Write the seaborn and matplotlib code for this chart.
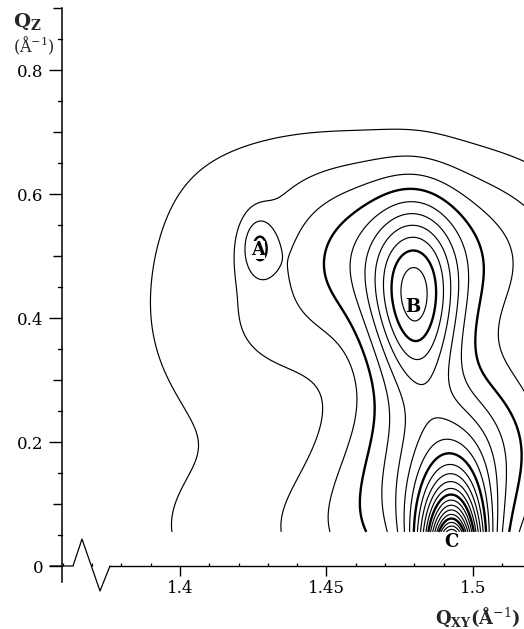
import numpy as np
import matplotlib
matplotlib.use("Agg")
import matplotlib.pyplot as plt
import seaborn as sns
from matplotlib.transforms import blended_transform_factory

# ---- data read from the reference map --------------------------------------
# points lying on the drawn contour lines (level index, Qxy, Qz)
pt_level = (
    [1] * 13 + [2] * 17 + [3] * 19 + [4] * 19 + [5] * 10 + [6] * 6 + [7] * 7 + [8] * 6
    + [9] * 9 + [10] * 4
)
pt_qxy = [
    1.399, 1.4068, 1.4044, 1.3853, 1.3966, 1.4092, 1.4195, 1.4352, 1.4546, 1.4717, 1.4887, 1.4956, 1.5174,
    1.4215, 1.4273, 1.4375, 1.441, 1.4693, 1.4809, 1.498, 1.5058, 1.516, 1.4181, 1.4181, 1.4229, 1.4273,
    1.4386, 1.4478, 1.4454, 1.4352,
    1.4222, 1.4331, 1.4276, 1.4276, 1.441, 1.4375, 1.4358, 1.4433, 1.458, 1.4669, 1.4614, 1.4495, 1.4775,
    1.498, 1.5082, 1.516, 1.5167, 1.5092, 1.517,
    1.4242, 1.428, 1.4261, 1.4261, 1.4505, 1.4539, 1.4672, 1.4744, 1.4672, 1.4608, 1.4775, 1.4932, 1.5048,
    1.5075, 1.5058, 1.5024, 1.5082, 1.517, 1.457,
    1.457, 1.4727, 1.4795, 1.4809, 1.4795, 1.4717, 1.4672, 1.4775, 1.5, 1.499,
    1.4625, 1.4962, 1.4843, 1.4932, 1.4775, 1.4693,
    1.4666, 1.4932, 1.4795, 1.482, 1.4928, 1.4727, 1.511,
    1.47, 1.4904, 1.4795, 1.481, 1.4928, 1.508,
    1.4727, 1.487, 1.4799, 1.4799, 1.4928, 1.480, 1.504, 1.484, 1.501,
    1.4758, 1.4846, 1.4802, 1.4802,
]
pt_qz = [
    0.055, 0.179, 0.224, 0.434, 0.526, 0.590, 0.660, 0.671, 0.711, 0.719, 0.713, 0.695, 0.684,
    0.611, 0.613, 0.577, 0.582, 0.663, 0.658, 0.606, 0.585, 0.547, 0.542, 0.477, 0.408, 0.353,
    0.300, 0.208, 0.166, 0.058,
    0.51, 0.51, 0.437, 0.584, 0.498, 0.494, 0.445, 0.381, 0.273, 0.208, 0.150, 0.058, 0.631,
    0.563, 0.526, 0.482, 0.420, 0.268, 0.192,
    0.517, 0.517, 0.503, 0.531, 0.445, 0.381, 0.289, 0.215, 0.134, 0.058, 0.610, 0.558, 0.489,
    0.434, 0.365, 0.268, 0.166, 0.085, 0.537,
    0.429, 0.289, 0.252, 0.219, 0.155, 0.102, 0.058, 0.587, 0.429, 0.252,
    0.429, 0.429, 0.219, 0.252, 0.565, 0.058,
    0.429, 0.429, 0.550, 0.283, 0.218, 0.058, 0.058,
    0.429, 0.429, 0.535, 0.300, 0.200, 0.058,
    0.429, 0.429, 0.521, 0.313, 0.184, 0.058, 0.058, 0.12, 0.12,
    0.420, 0.420, 0.461, 0.377,
]

# the steep peak C: arch tops (Qz on the C axis) and feet on the lower cut
c_levels = [10, 11, 12, 13, 14, 15, 16, 17, 18, 19, 20, 21]
c_top_qz = [0.174, 0.164, 0.155, 0.145, 0.135, 0.126, 0.116, 0.106, 0.097, 0.087, 0.078, 0.068]
c_left_qxy = [1.4815, 1.4824, 1.4833, 1.4842, 1.4851, 1.4860, 1.4868, 1.4875, 1.4881, 1.4886, 1.4891, 1.4897]
c_right_qxy = [1.5020, 1.5013, 1.5006, 1.4999, 1.4992, 1.4985, 1.4978, 1.4972, 1.4967, 1.4962, 1.4958, 1.4954]
c_axis_qxy = 1.4928
c_foot_qz = 0.058

# values read between the lines: peaks, saddles (weighted), background, waist
key_level = [4.3, 10.3, 23.0, 2.85, 6.5]
key_qxy = [1.4268, 1.4802, 1.4928, 1.4345, 1.488]
key_qz = [0.515, 0.420, 0.055, 0.490, 0.235]
extra_level = [0.4, 0.4, 0.4, 0.4, 0.4, 0.4, 0.4, 1.5, 1.5, 1.5, 2.5, 1.5, 1.5,
               4, 3, 5, 1, 9, 9, 9, 9]
extra_qxy = [1.372, 1.385, 1.39, 1.42, 1.46, 1.50, 1.37, 1.41, 1.43, 1.44, 1.442, 1.42, 1.42,
             1.4744, 1.4669, 1.4809, 1.505, 1.4747, 1.4857, 1.4747, 1.4857]
extra_qz = [0.45, 0.15, 0.62, 0.74, 0.79, 0.78, 0.06, 0.40, 0.25, 0.64, 0.10, 0.10, 0.17,
            0.215, 0.208, 0.219, 0.69, 0.488, 0.488, 0.348, 0.348]

# shapes used to describe the map: centre and (width Qxy, width Qz)
fam_qxy = [1.4802] * 8 + [1.4268] * 3 + [1.4928] * 7
fam_qz = [0.42] * 8 + [0.515] * 3 + [0.0] * 7
fam_wxy = [0.005, 0.008, 0.010, 0.015, 0.018, 0.030, 0.050, 0.080,
           0.004, 0.008, 0.016,
           0.003, 0.005, 0.009, 0.015, 0.025, 0.045, 0.080]
fam_wz = [0.07, 0.14, 0.10, 0.20, 0.13, 0.16, 0.20, 0.26,
          0.035, 0.06, 0.09,
          0.03, 0.06, 0.10, 0.15, 0.20, 0.25, 0.30]
bg_qxy = [1.37, 1.40, 1.43, 1.46, 1.49, 1.52]
bg_qz = [0.05, 0.20, 0.35, 0.50, 0.65]
bg_wxy, bg_wz = 0.022, 0.11

contour_levels = list(range(1, 25))
thick_levels = [4, 9, 14, 19, 24]

qxy_range = [1.362, 1.53]
qz_range = [0.055, 0.85]

x_ticks = [1.4, 1.45, 1.5]
x_ticklabels = ["1.4", "1.45", "1.5"]
y_ticks = [0.0, 0.2, 0.4, 0.6, 0.8]
y_ticklabels = ["0", "0.2", "0.4", "0.6", "0.8"]

peak_labels = ["A", "B", "C"]
label_qxy = [1.4266, 1.4795, 1.4928]
label_qz = [0.51, 0.418, 0.039]

# ---- fit (non-negative) the intensity map to the values
nc = len(c_levels)
lv = np.concatenate([pt_level, c_levels, c_levels, c_levels, key_level, extra_level]).astype(float)
qxp = np.concatenate([pt_qxy, [c_axis_qxy] * nc, c_left_qxy, c_right_qxy, key_qxy, extra_qxy])
qzp = np.concatenate([pt_qz, c_top_qz, [c_foot_qz] * nc, [c_foot_qz] * nc, key_qz, extra_qz])
wts = np.concatenate([np.ones(len(pt_level)), np.full(3 * nc, 1.5),
                      np.full(len(key_level), 3.0), np.ones(len(extra_level))])

cx_all = list(fam_qxy) + [x for x in bg_qxy for _ in bg_qz]
cz_all = list(fam_qz) + [z for _ in bg_qxy for z in bg_qz]
wx_all = list(fam_wxy) + [bg_wxy] * (len(bg_qxy) * len(bg_qz))
wz_all = list(fam_wz) + [bg_wz] * (len(bg_qxy) * len(bg_qz))


def basis(qx, qz):
    cols = []
    for cx, cz, wx, wz in zip(cx_all, cz_all, wx_all, wz_all):
        cols.append(np.exp(-0.5 * (((qx - cx) / wx) ** 2 + ((qz - cz) / wz) ** 2)))
    return np.stack(cols, axis=-1)


def nnls(A, b, maxiter=2000):
    n = A.shape[1]
    P = np.zeros(n, bool)
    x = np.zeros(n)
    wgrad = A.T @ (b - A @ x)
    it = 0
    while (~P).any() and np.max(np.where(P, -np.inf, wgrad)) > 1e-9 and it < maxiter:
        j = int(np.argmax(np.where(P, -np.inf, wgrad)))
        P[j] = True
        while True:
            it += 1
            s = np.zeros(n)
            s[P] = np.linalg.lstsq(A[:, P], b, rcond=None)[0]
            if s[P].min() > 0 or it > maxiter:
                break
            mask = P & (s <= 0)
            alpha = np.min(x[mask] / (x[mask] - s[mask]))
            x = x + alpha * (s - x)
            P &= x > 1e-12
        x = s
        wgrad = A.T @ (b - A @ x)
    return x


lam = 0.02
Amat = basis(qxp, qzp) * wts[:, None]
nb = Amat.shape[1]
Aaug = np.vstack([Amat, np.sqrt(lam) * np.eye(nb)])
baug = np.concatenate([lv * wts, np.zeros(nb)])
coef = nnls(Aaug, baug)

qx = np.linspace(qxy_range[0], qxy_range[1], 700)
qz = np.linspace(qz_range[0], qz_range[1], 700)
QX, QZ = np.meshgrid(qx, qz)
Z = basis(QX, QZ) @ coef

# ---- figure -------------------------------------------------------------------
sns.set_theme(style="ticks")
plt.rcParams["font.family"] = ["DejaVu Serif"]
plt.rcParams["mathtext.fontset"] = "dejavuserif"

W, H = 524, 629
fig = plt.figure(figsize=(W / 100, H / 100), dpi=100)
fig.patch.set_facecolor("white")
ax = fig.add_axes([62 / W, (H - 582) / H, (W - 62) / W, (582 - 8) / H])
ax.set_facecolor("white")

xmin, xmax = 1.35973, 1.51741
ymin, ymax = -0.0258, 0.9
ax.set_xlim(xmin, xmax)
ax.set_ylim(ymin, ymax)

lws = [1.7 if lv_ in thick_levels else 0.85 for lv_ in contour_levels]
ax.contour(QX, QZ, Z, levels=contour_levels, colors="black", linewidths=lws)

for t, x, y in zip(peak_labels, label_qxy, label_qz):
    kw = dict(ha="center", va="center", fontsize=13, fontweight="bold", color="black")
    if t == "A":
        kw["bbox"] = dict(boxstyle="square,pad=0.0", fc="white", ec="none")
    ax.text(x, y, t, **kw)

ax.spines["top"].set_visible(False)
ax.spines["right"].set_visible(False)
ax.spines["left"].set_linewidth(1.1)
ax.spines["left"].set_color("black")
ax.spines["bottom"].set_position(("data", 0))
brk = xmin + (110 - 62) / 2930
ax.spines["bottom"].set_bounds(brk, xmax)
ax.spines["bottom"].set_linewidth(1.0)
ax.spines["bottom"].set_color("black")

px = lambda p: xmin + (p - 62) / 2930
ax.plot([px(50), px(73), px(82), px(100), px(110)],
        [0, 0, 27 / 620, -25 / 620, 0], color="black", lw=0.9, clip_on=False)

ax.set_xticks(x_ticks)
ax.set_xticklabels(x_ticklabels, fontsize=12)
ax.set_yticks(y_ticks)
ax.set_yticklabels(y_ticklabels, fontsize=12)
ax.xaxis.set_minor_locator(matplotlib.ticker.MultipleLocator(0.01))
ax.yaxis.set_minor_locator(matplotlib.ticker.MultipleLocator(0.1))
ax.tick_params(axis="x", which="major", direction="out", length=7, width=1.0, pad=3, colors="black")
ax.tick_params(axis="x", which="minor", direction="in", length=2.5, width=0.9, colors="black")
ax.tick_params(axis="y", which="major", direction="out", length=9.5, width=1.0, pad=4, colors="black")
ax.tick_params(axis="y", which="minor", direction="out", length=6.5, width=1.0, colors="black")
tr = blended_transform_factory(ax.transAxes, ax.transData)
for v in np.arange(0.05, 0.9, 0.1):
    ax.plot([-4 / 462, 0], [v, v], color="black", lw=1.0, transform=tr, clip_on=False)

fig.text(13 / W, 1 - 22 / H, r"Q$_{\mathbf{Z}}$", fontsize=14, fontweight="bold", va="center", ha="left")
fig.text(13 / W, 1 - 46 / H, r"(Å$^{\mathrm{-1}}$)", fontsize=11.5, va="center", ha="left")
fig.text(521 / W, 1 - 617 / H, r"Q$_{\mathbf{XY}}$(Å$^{\mathrm{-1}}$)", fontsize=13, fontweight="bold",
         va="center", ha="right")

fig.savefig("out.png", dpi=100, facecolor="white")
